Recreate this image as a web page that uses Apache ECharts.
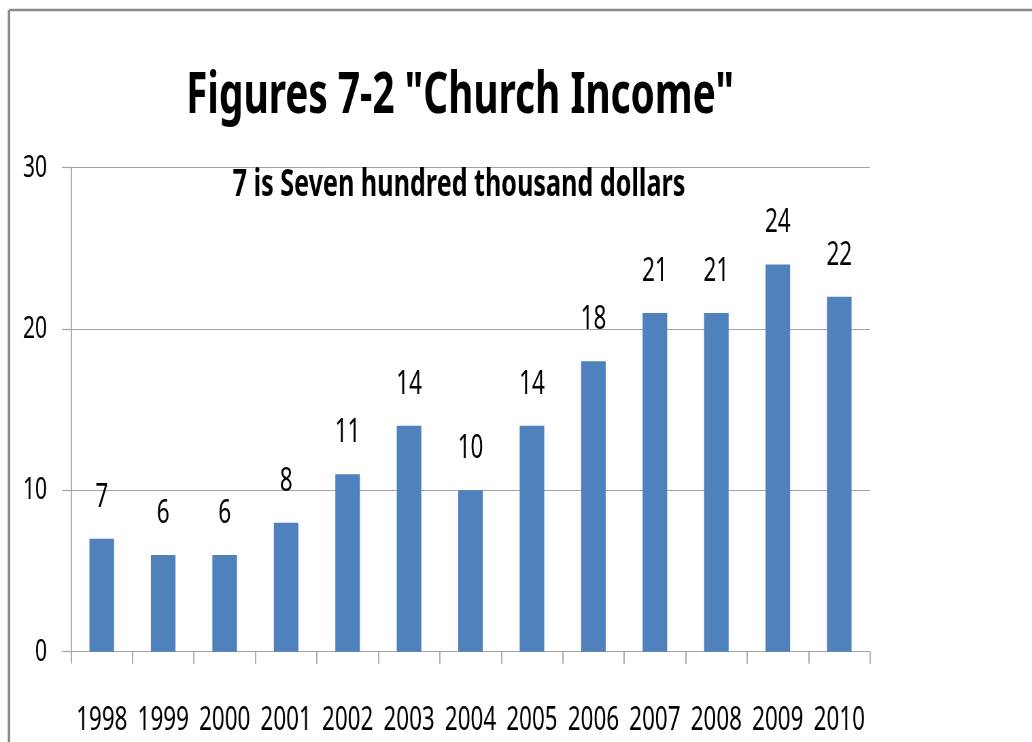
<!DOCTYPE html>
<html>
<head>
<meta charset="utf-8">
<script src="https://cdn.jsdelivr.net/npm/echarts@6/dist/echarts.min.js"></script>
<style>
  html, body { margin: 0; padding: 0; width: 1032px; height: 742px; overflow: hidden; background: #fff; }
  /* the chart is laid out wide and squeezed horizontally for its narrow lettering */
  #chart { width: 1518px; height: 742px; transform: scaleX(0.67984); transform-origin: 0 0; }
</style>
</head>
<body>
<div id="chart"></div>
<script>
// Church income by year (units of 100,000 dollars)
const years = ['1998', '1999', '2000', '2001', '2002', '2003', '2004', '2005', '2006', '2007', '2008', '2009', '2010'];
const income = [7, 6, 6, 8, 11, 14, 10, 14, 18, 21, 21, 24, 22];
const yMin = 0;
const yMax = 30;
const yStep = 10;
const titleText = 'Figures 7-2 "Church Income"';
const noteText = '7 is Seven hundred thousand dollars';

// horizontal squeeze factor; x sizes are given in on-screen pixels and divided by it
const SX = 1032 / 1518;
const px = v => v / SX;

const FONT = '"Noto Sans", "Open Sans", sans-serif';
const GRID_COLOR = '#a3a3a3';
const BAR_COLOR = '#4f81bd';

const chart = echarts.init(document.getElementById('chart'), null, { renderer: 'canvas' });

chart.setOption({
  animation: false,
  backgroundColor: '#ffffff',
  grid: {
    left: px(71),
    right: 1518 - px(870),
    top: 167.7,
    bottom: 742 - 651.7,
    containLabel: false
  },
  xAxis: {
    type: 'category',
    data: years,
    boundaryGap: true,
    axisLine: { show: true, lineStyle: { color: GRID_COLOR, width: 1.2 } },
    axisTick: { show: true, alignWithLabel: false, length: 12, lineStyle: { color: GRID_COLOR, width: 1.2 / SX } },
    axisLabel: {
      interval: 0,
      margin: 52,
      color: '#000',
      fontFamily: FONT,
      fontSize: 33
    },
    splitLine: { show: false }
  },
  yAxis: {
    type: 'value',
    min: yMin,
    max: yMax,
    interval: yStep,
    axisLine: { show: true, lineStyle: { color: GRID_COLOR, width: 1.2 / SX } },
    axisTick: { show: true, length: px(9), lineStyle: { color: GRID_COLOR, width: 1.2 } },
    axisLabel: {
      margin: px(24),
      color: '#000',
      fontFamily: FONT,
      fontSize: 31
    },
    splitLine: { show: true, lineStyle: { color: GRID_COLOR, width: 1.2 } }
  },
  series: [{
    type: 'bar',
    data: income,
    barWidth: '40%',
    itemStyle: { color: BAR_COLOR },
    label: {
      show: true,
      position: 'top',
      distance: 25,
      color: '#000',
      fontFamily: FONT,
      fontSize: 33
    }
  }],
  graphic: [
    // chart frame (top and left edges)
    { type: 'line', silent: true, shape: { x1: px(9), y1: 10, x2: 1600, y2: 10 },
      style: { stroke: '#8a8a8a', lineWidth: 2.5 } },
    { type: 'line', silent: true, shape: { x1: px(9), y1: 10, x2: px(9), y2: 800 },
      style: { stroke: '#8a8a8a', lineWidth: 2.5 / SX } },
    { type: 'text', silent: true, x: px(460), y: 97,
      style: { text: titleText, fill: '#000', font: 'bold 57px ' + FONT, textAlign: 'center', textVerticalAlign: 'middle' } },
    { type: 'text', silent: true, x: px(459), y: 185, z: 10,
      style: { text: noteText, fill: '#000', font: 'bold 37px ' + FONT, textAlign: 'center', textVerticalAlign: 'middle' } }
  ]
});
</script>
</body>
</html>
